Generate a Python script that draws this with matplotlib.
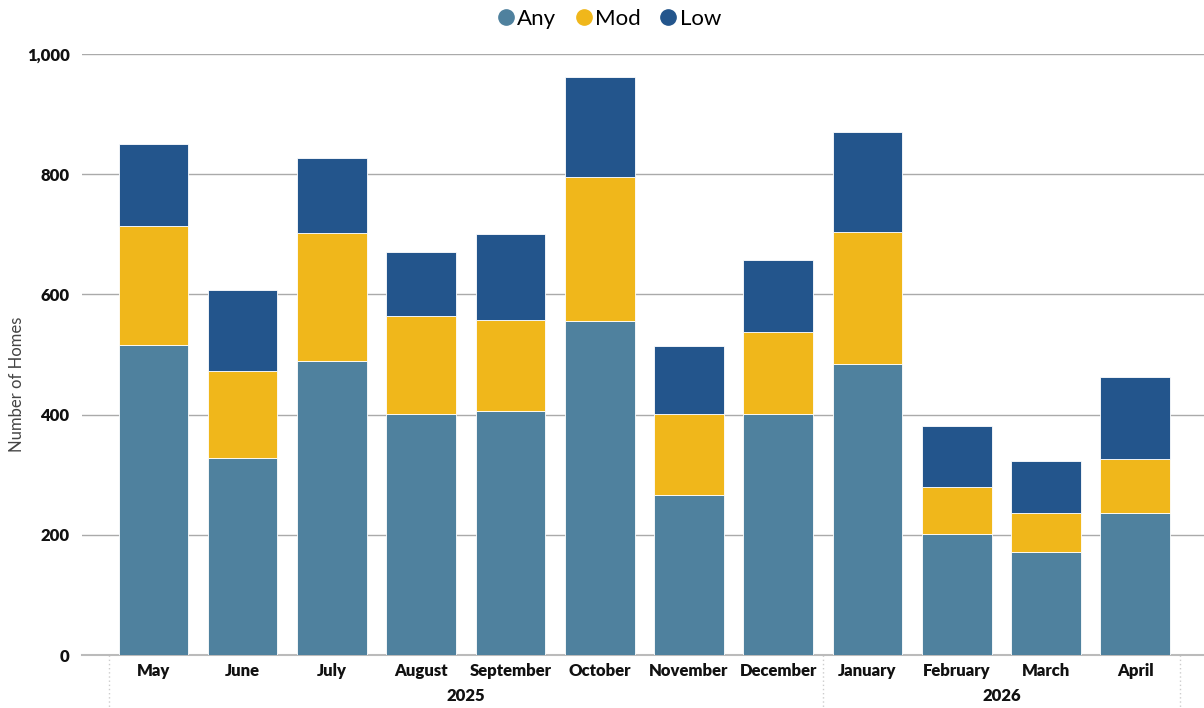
import matplotlib
matplotlib.use("Agg")
import matplotlib.pyplot as plt
from matplotlib.ticker import FuncFormatter
from matplotlib.lines import Line2D

months = ["May", "June", "July", "August", "September", "October", "November",
          "December", "January", "February", "March", "April"]
years = ["2025", "2026"]
year_counts = [8, 4]
any_vals = [516, 328, 489, 401, 406, 556, 266, 401, 484, 201, 171, 236]
mod_vals = [198, 145, 213, 163, 151, 239, 135, 136, 220, 79, 65, 90]
low_vals = [136, 134, 125, 107, 143, 167, 113, 120, 166, 101, 87, 137]

c_any = "#4F819E"
c_mod = "#F0B71B"
c_low = "#23558C"

plt.rcParams['font.family'] = ['Lato', 'DejaVu Sans']
fig = plt.figure(figsize=(12.04, 7.08), dpi=100)
W, H = 1204, 708
ax = fig.add_axes([82 / W, (H - 655) / H, 1 - 82 / W, (655 - 54) / H])

x = list(range(len(months)))
bw = 0.78
bottom2 = [a + m for a, m in zip(any_vals, mod_vals)]
ax.bar(x, any_vals, bw, color=c_any, edgecolor="white", linewidth=0.6, zorder=3)
ax.bar(x, mod_vals, bw, bottom=any_vals, color=c_mod, edgecolor="white", linewidth=0.6, zorder=3)
ax.bar(x, low_vals, bw, bottom=bottom2, color=c_low, edgecolor="white", linewidth=0.6, zorder=3)

ax.set_xlim(-0.80, 11.77)
ax.set_ylim(0, 1000)
ax.set_yticks([0, 200, 400, 600, 800, 1000])
ax.yaxis.set_major_formatter(FuncFormatter(lambda v, p: f"{int(v):,}"))
ax.grid(axis="y", color="#AAAAAA", linewidth=1.0, zorder=0)
for s in ["top", "right", "left"]:
    ax.spines[s].set_visible(False)
ax.spines["bottom"].set_color("#BBBBBB")
ax.spines["bottom"].set_linewidth(1.5)
ax.tick_params(axis="y", length=0, pad=9, labelsize=12)
ax.tick_params(axis="x", length=0, pad=6, labelsize=12)
ax.set_xticks(x)
ax.set_xticklabels(months)
for lbl in ax.get_xticklabels() + ax.get_yticklabels():
    lbl.set_fontweight("heavy")
    lbl.set_color("#111111")
ax.set_ylabel("Number of Homes", fontsize=12, color="#444444")
ax.yaxis.set_label_coords(-0.051, 0.45)

# year group labels and separators
trans = ax.get_xaxis_transform()
start = 0
bounds = [-0.5]
for yr, n in zip(years, year_counts):
    center = start + (n - 1) / 2
    ax.text(center, -0.068, yr, transform=trans, ha="center", va="center",
            fontsize=12, fontweight="heavy", color="#111111")
    start += n
    bounds.append(start - 0.5)
for b in bounds:
    ax.plot([b, b], [0, -0.09], transform=trans, color="#CCCCCC", linestyle=(0, (1, 2)),
            linewidth=1, clip_on=False)

handles = [Line2D([0], [0], marker="o", linestyle="", markersize=11, color=c) for c in (c_any, c_mod, c_low)]
fig.legend(handles, ["Any", "Mod", "Low"], loc="center", bbox_to_anchor=(605 / W, 1 - 19 / H),
           ncol=3, frameon=False, fontsize=16, handletextpad=-0.25, columnspacing=0.5,
           handlelength=1.5)

fig.savefig("out.png", dpi=100)
